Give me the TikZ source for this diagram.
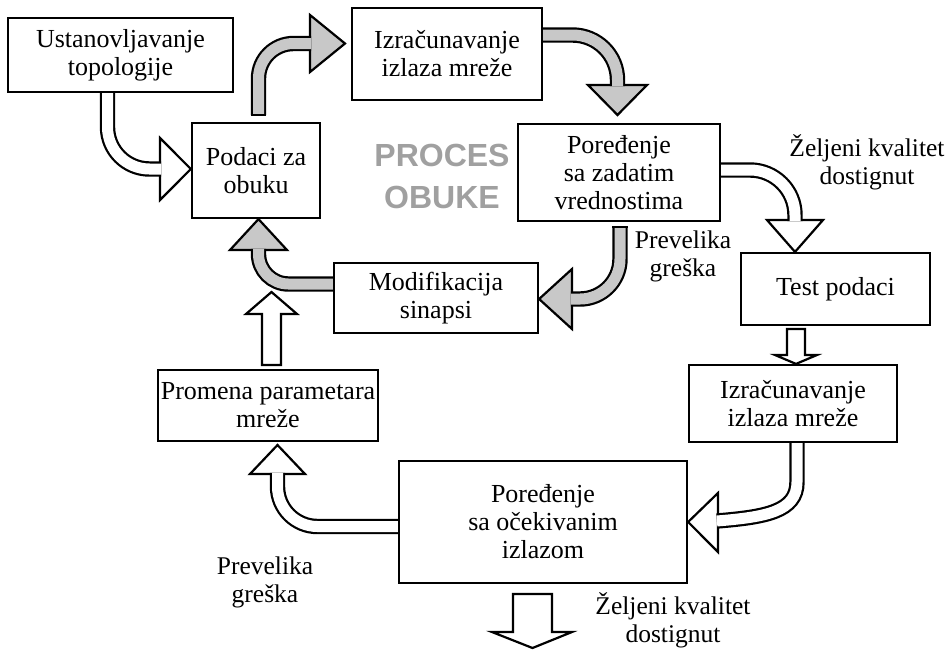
\documentclass[tikz,border=0pt]{standalone}
\usepackage{fontspec}
\setmainfont{Liberation Serif}
\newfontfamily\titlefont{Liberation Sans}
\usetikzlibrary{calc}
\pgfdeclarelayer{bg}
\pgfsetlayers{bg,main}
\definecolor{shaftgray}{RGB}{200,200,200}
\definecolor{titlegray}{RGB}{160,160,160}

\begin{document}
\begin{tikzpicture}[x=1pt,y=-1pt,
  lw/.style={line width=2.2pt},
  box/.style={draw, lw, fill=white, inner sep=0pt, align=center,
    font=\fontsize{26}{28}\selectfont},
  lbl/.style={align=center, inner sep=0pt, font=\fontsize{25.5}{28}\selectfont},
  bigword/.style={text=titlegray, inner sep=0pt,
    font=\titlefont\bfseries\fontsize{32}{32}\selectfont},
  wshaft/.style={lw, draw=black, double=white, double distance=11pt},
  gshaft/.style={lw, draw=black, double=shaftgray, double distance=11pt},
  whead/.style={lw, draw=black, fill=white, line join=miter},
  ghead/.style={lw, draw=black, fill=shaftgray, line join=miter},
]
\useasboundingbox (0,0) rectangle (946,649);

% process boxes
\node[box, minimum width=225pt, minimum height=74pt] (ust) at (120.5,55) {Ustanovljavanje\\topologije};
\node[box, minimum width=128pt, minimum height=95pt] (pod) at (256,170.5) {Podaci za\\obuku};
\node[box, minimum width=190pt, minimum height=92pt] (izr1) at (447,54) {Izračunavanje\\izlaza mreže};
\node[box, minimum width=202pt, minimum height=97pt] (por1) at (619,172.5) {Poređenje\\sa zadatim\\vrednostima};
\node[box, minimum width=189pt, minimum height=72pt] (test) at (835.5,289) {Test podaci};
\node[box, minimum width=204pt, minimum height=70pt] (mod) at (436,298) {Modifikacija\\sinapsi};
\node[box, minimum width=220pt, minimum height=71pt] (prom) at (268,405.5) {Promena parametara\\mreže};
\node[box, minimum width=208pt, minimum height=77pt] (izr2) at (793,403.5) {Izračunavanje\\izlaza mreže};
\node[box, minimum width=288pt, minimum height=122pt] (por2) at (543,522) {Poređenje\\sa očekivanim\\izlazom};

% labels
\node[lbl] (q1) at (867,162) {Željeni kvalitet\\dostignut};
\node[lbl] (e1) at (683,256) {Prevelika\\greška};
\node[lbl] (e2) at (265,582) {Prevelika\\greška};
\node[lbl] (q2) at (673,620) {Željeni kvalitet\\dostignut};
\node[bigword] (w1) at (442,155) {PROCES};
\node[bigword] (w2) at (442,197) {OBUKE};

\begin{pgfonlayer}{bg}
% topology -> training data
\draw[whead] (160,138) -- (pod.west |- 0,169) -- (160,200) -- cycle;
\draw[wshaft, rounded corners=42pt] (107.5,0 |- ust.south) |- (161.1,169);

% training data -> network output
\draw[ghead] (310,15) -- (345,43.5) -- (310,72) -- cycle;
\draw[gshaft, rounded corners=35pt] (258.5,115) |- (311.1,43.5);
\draw[lw] (250.8,115) -- (266.2,115);

% network output -> comparison
\draw[ghead] (588,85) -- (617.5,115) -- (647,85) -- cycle;
\draw[gshaft, rounded corners=45pt] (izr1.east |- 0,35) -| (617.5,86.1);

% comparison -> synapse modification
\draw[ghead] (572,269) -- (mod.east |- 0,299) -- (572,329) -- cycle;
\draw[gshaft, rounded corners=40pt] (620,227) |- (570.9,299);
\draw[lw] (612.3,227) -- (627.7,227);

% comparison -> test data
\draw[whead] (767,220) -- (795,0 |- test.north) -- (823,220) -- cycle;
\draw[wshaft, rounded corners=45pt] (por1.east |- 0,170) -| (795,221.1);

% test data -> output
\draw[whead] (787,329) -- (805,329) -- (805,355) -- (817,355)
  -- (796,0 |- izr2.north) -- (775,355) -- (787,355) -- cycle;

% output -> comparison with expected output
\draw[whead] (718,493) -- (por2.east |- 0,522) -- (718,552) -- cycle;
\draw[wshaft] (797,0 |- izr2.south) -- (797,482)
  .. controls (797,512) and (765,517) .. (716.9,521);

% comparison -> parameter change
\draw[whead] (250,474) -- (277.5,445) -- (305,474) -- cycle;
\draw[wshaft, rounded corners=40pt] (por2.west |- 0,526.5) -| (277.5,472.9);

% parameter change -> training data
\draw[whead] (262,365) -- (262,314) -- (246,314) -- (271.5,292)
  -- (297,314) -- (281,314) -- (281,365) -- cycle;

% synapse modification -> training data
\draw[ghead] (230,250) -- (258.5,0 |- pod.south) -- (287,250) -- cycle;
\draw[gshaft, rounded corners=30pt] (mod.west |- 0,284) -| (258.5,248.9);

% final exit
\draw[whead] (513,594) -- (552,594) -- (552,632) -- (572,632)
  -- (532.5,648) -- (492,632) -- (513,632) -- cycle;
\end{pgfonlayer}
\end{tikzpicture}
\end{document}
